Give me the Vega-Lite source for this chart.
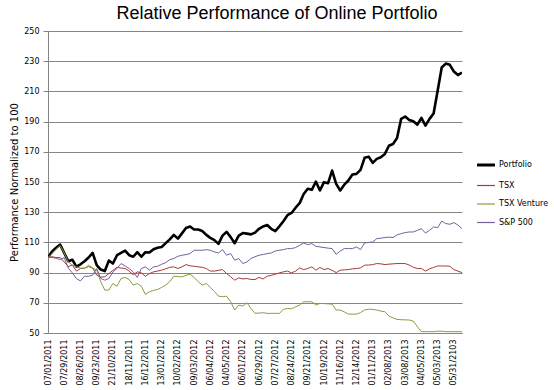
{
  "$schema": "https://vega.github.io/schema/vega-lite/v6.json",
  "width": 414,
  "height": 302,
  "autosize": {"type": "none"},
  "padding": {"left": 48, "top": 31, "right": 92, "bottom": 57},
  "background": "white",
  "title": {
    "text": "Relative Performance of Online Portfolio",
    "font": "Liberation Sans",
    "fontSize": 18,
    "fontWeight": "normal",
    "color": "#000000",
    "anchor": "middle",
    "dx": 22,
    "offset": 4
  },
  "config": {
    "view": {"stroke": null},
    "font": "DejaVu Sans"
  },
  "data": {
    "values": [
      {"date": "07/01/2011", "Portfolio": 100, "TSX": 100, "TSX Venture": 100, "S&P 500": 100},
      {"date": "07/08/2011", "Portfolio": 104, "TSX": 100.5, "TSX Venture": 102.5, "S&P 500": 100},
      {"date": "07/15/2011", "Portfolio": 106.5, "TSX": 100, "TSX Venture": 105.5, "S&P 500": 99.5},
      {"date": "07/22/2011", "Portfolio": 108.5, "TSX": 100, "TSX Venture": 108, "S&P 500": 98.6},
      {"date": "07/29/2011", "Portfolio": 103, "TSX": 97, "TSX Venture": 103, "S&P 500": 99.9},
      {"date": "08/05/2011", "Portfolio": 97.5, "TSX": 94, "TSX Venture": 97, "S&P 500": 93},
      {"date": "08/12/2011", "Portfolio": 98.5, "TSX": 95, "TSX Venture": 95, "S&P 500": 89.8},
      {"date": "08/19/2011", "Portfolio": 94, "TSX": 91, "TSX Venture": 93.8, "S&P 500": 86},
      {"date": "08/26/2011", "Portfolio": 95.5, "TSX": 92.7, "TSX Venture": 93, "S&P 500": 84.5},
      {"date": "09/02/2011", "Portfolio": 97.5, "TSX": 93, "TSX Venture": 92.7, "S&P 500": 87.6},
      {"date": "09/09/2011", "Portfolio": 100, "TSX": 94, "TSX Venture": 94.9, "S&P 500": 87.6},
      {"date": "09/16/2011", "Portfolio": 103, "TSX": 93, "TSX Venture": 93.1, "S&P 500": 88.3},
      {"date": "09/23/2011", "Portfolio": 95, "TSX": 88.3, "TSX Venture": 91.6, "S&P 500": 92.7},
      {"date": "09/30/2011", "Portfolio": 92, "TSX": 87, "TSX Venture": 83.9, "S&P 500": 86.1},
      {"date": "10/07/2011", "Portfolio": 91, "TSX": 87.2, "TSX Venture": 78.4, "S&P 500": 85},
      {"date": "10/14/2011", "Portfolio": 98, "TSX": 89.4, "TSX Venture": 78.4, "S&P 500": 86.1},
      {"date": "21/10/2011", "Portfolio": 96, "TSX": 91.5, "TSX Venture": 82.8, "S&P 500": 90.5},
      {"date": "10/28/2011", "Portfolio": 101.5, "TSX": 93.5, "TSX Venture": 81, "S&P 500": 92.7},
      {"date": "11/04/2011", "Portfolio": 103, "TSX": 93, "TSX Venture": 86.1, "S&P 500": 96},
      {"date": "11/11/2011", "Portfolio": 104.5, "TSX": 92.7, "TSX Venture": 86.8, "S&P 500": 94.4},
      {"date": "18/11/2011", "Portfolio": 101.5, "TSX": 91, "TSX Venture": 85.4, "S&P 500": 92.7},
      {"date": "11/25/2011", "Portfolio": 100.5, "TSX": 88.5, "TSX Venture": 81.7, "S&P 500": 90.5},
      {"date": "12/02/2011", "Portfolio": 103.5, "TSX": 90.5, "TSX Venture": 82.8, "S&P 500": 86.8},
      {"date": "12/09/2011", "Portfolio": 100.5, "TSX": 89.8, "TSX Venture": 81, "S&P 500": 92.7},
      {"date": "16/12/2011", "Portfolio": 103.5, "TSX": 87.6, "TSX Venture": 75.5, "S&P 500": 93.8},
      {"date": "12/23/2011", "Portfolio": 103.3, "TSX": 89.4, "TSX Venture": 77.3, "S&P 500": 91.6},
      {"date": "12/30/2011", "Portfolio": 105.5, "TSX": 90.5, "TSX Venture": 78.2, "S&P 500": 93.8},
      {"date": "01/06/2012", "Portfolio": 106.5, "TSX": 91, "TSX Venture": 78.8, "S&P 500": 94.2},
      {"date": "13/01/2012", "Portfolio": 107, "TSX": 91.6, "TSX Venture": 80.2, "S&P 500": 95.5},
      {"date": "01/20/2012", "Portfolio": 109.5, "TSX": 92.5, "TSX Venture": 81.7, "S&P 500": 96.6},
      {"date": "01/27/2012", "Portfolio": 112, "TSX": 93.5, "TSX Venture": 84, "S&P 500": 98.6},
      {"date": "02/03/2012", "Portfolio": 115, "TSX": 93.8, "TSX Venture": 87.6, "S&P 500": 99.3},
      {"date": "10/02/2012", "Portfolio": 112.5, "TSX": 92.7, "TSX Venture": 87.4, "S&P 500": 100.8},
      {"date": "02/17/2012", "Portfolio": 116, "TSX": 93.8, "TSX Venture": 87.2, "S&P 500": 101.5},
      {"date": "02/24/2012", "Portfolio": 119.5, "TSX": 95.3, "TSX Venture": 88.2, "S&P 500": 101.9},
      {"date": "03/02/2012", "Portfolio": 120.5, "TSX": 94.5, "TSX Venture": 89, "S&P 500": 102.6},
      {"date": "09/03/2012", "Portfolio": 118.5, "TSX": 94.2, "TSX Venture": 86.8, "S&P 500": 104.8},
      {"date": "03/16/2012", "Portfolio": 118.5, "TSX": 93.8, "TSX Venture": 84, "S&P 500": 104.8},
      {"date": "03/23/2012", "Portfolio": 117.5, "TSX": 93.5, "TSX Venture": 81.7, "S&P 500": 104.8},
      {"date": "03/30/2012", "Portfolio": 115, "TSX": 92.7, "TSX Venture": 82.8, "S&P 500": 105.2},
      {"date": "06/04/2012", "Portfolio": 113, "TSX": 91, "TSX Venture": 80.2, "S&P 500": 104.8},
      {"date": "04/13/2012", "Portfolio": 111.5, "TSX": 91, "TSX Venture": 77.5, "S&P 500": 103.7},
      {"date": "04/20/2012", "Portfolio": 109, "TSX": 91.5, "TSX Venture": 74.4, "S&P 500": 103},
      {"date": "04/27/2012", "Portfolio": 114.5, "TSX": 92, "TSX Venture": 74, "S&P 500": 105.2},
      {"date": "04/05/2012", "Portfolio": 117, "TSX": 89.4, "TSX Venture": 74.4, "S&P 500": 101.5},
      {"date": "05/11/2012", "Portfolio": 113.5, "TSX": 87.2, "TSX Venture": 70.7, "S&P 500": 102.6},
      {"date": "05/18/2012", "Portfolio": 109.5, "TSX": 85, "TSX Venture": 65.2, "S&P 500": 98.2},
      {"date": "05/25/2012", "Portfolio": 114.5, "TSX": 86.5, "TSX Venture": 68.5, "S&P 500": 99.3},
      {"date": "06/01/2012", "Portfolio": 116.2, "TSX": 85.8, "TSX Venture": 67.8, "S&P 500": 96},
      {"date": "06/08/2012", "Portfolio": 115.8, "TSX": 86.1, "TSX Venture": 70, "S&P 500": 97.1},
      {"date": "06/15/2012", "Portfolio": 115.3, "TSX": 85.5, "TSX Venture": 66.3, "S&P 500": 99.3},
      {"date": "06/22/2012", "Portfolio": 116.5, "TSX": 85.4, "TSX Venture": 63, "S&P 500": 100.5},
      {"date": "06/29/2012", "Portfolio": 119, "TSX": 86.8, "TSX Venture": 63.2, "S&P 500": 101.5},
      {"date": "07/06/2012", "Portfolio": 120.6, "TSX": 85.8, "TSX Venture": 63.4, "S&P 500": 102},
      {"date": "07/13/2012", "Portfolio": 121.5, "TSX": 87.6, "TSX Venture": 63, "S&P 500": 102.6},
      {"date": "07/20/2012", "Portfolio": 119, "TSX": 88.2, "TSX Venture": 63, "S&P 500": 103},
      {"date": "07/27/2012", "Portfolio": 117.5, "TSX": 88.9, "TSX Venture": 63, "S&P 500": 104.3},
      {"date": "08/03/2012", "Portfolio": 120.6, "TSX": 89.8, "TSX Venture": 63, "S&P 500": 104.8},
      {"date": "08/10/2012", "Portfolio": 124, "TSX": 90.5, "TSX Venture": 65.6, "S&P 500": 105.2},
      {"date": "08/17/2012", "Portfolio": 128, "TSX": 91, "TSX Venture": 66.3, "S&P 500": 105.9},
      {"date": "08/24/2012", "Portfolio": 129.5, "TSX": 89.8, "TSX Venture": 66, "S&P 500": 105.9},
      {"date": "08/31/2012", "Portfolio": 133, "TSX": 91, "TSX Venture": 67.4, "S&P 500": 106.6},
      {"date": "09/07/2012", "Portfolio": 136, "TSX": 93.1, "TSX Venture": 68.5, "S&P 500": 108.1},
      {"date": "09/14/2012", "Portfolio": 142, "TSX": 92, "TSX Venture": 70.7, "S&P 500": 109.6},
      {"date": "09/21/2012", "Portfolio": 145.5, "TSX": 92.7, "TSX Venture": 70.7, "S&P 500": 108.5},
      {"date": "09/28/2012", "Portfolio": 144.8, "TSX": 93.8, "TSX Venture": 70.7, "S&P 500": 109.2},
      {"date": "10/05/2012", "Portfolio": 150.3, "TSX": 91.6, "TSX Venture": 68.5, "S&P 500": 107.4},
      {"date": "10/12/2012", "Portfolio": 144.4, "TSX": 93.4, "TSX Venture": 69.6, "S&P 500": 107},
      {"date": "10/19/2012", "Portfolio": 149.9, "TSX": 92, "TSX Venture": 69.5, "S&P 500": 106.6},
      {"date": "10/26/2012", "Portfolio": 149.2, "TSX": 92.7, "TSX Venture": 69.3, "S&P 500": 106.2},
      {"date": "11/02/2012", "Portfolio": 157.6, "TSX": 91.5, "TSX Venture": 69.1, "S&P 500": 105.9},
      {"date": "11/09/2012", "Portfolio": 148.8, "TSX": 90, "TSX Venture": 65.2, "S&P 500": 102.1},
      {"date": "11/16/2012", "Portfolio": 144.4, "TSX": 91.6, "TSX Venture": 65.2, "S&P 500": 104.3},
      {"date": "11/23/2012", "Portfolio": 148.2, "TSX": 91.8, "TSX Venture": 64, "S&P 500": 105.9},
      {"date": "11/30/2012", "Portfolio": 151, "TSX": 92, "TSX Venture": 62.5, "S&P 500": 105.9},
      {"date": "12/07/2012", "Portfolio": 155, "TSX": 92.5, "TSX Venture": 62.5, "S&P 500": 105.9},
      {"date": "12/14/2012", "Portfolio": 155.4, "TSX": 92.7, "TSX Venture": 62.5, "S&P 500": 107},
      {"date": "12/21/2012", "Portfolio": 158, "TSX": 93.1, "TSX Venture": 63.5, "S&P 500": 105.2},
      {"date": "12/28/2012", "Portfolio": 166, "TSX": 94.9, "TSX Venture": 65.2, "S&P 500": 109.6},
      {"date": "01/04/2013", "Portfolio": 166.8, "TSX": 95, "TSX Venture": 65.8, "S&P 500": 110},
      {"date": "01/11/2013", "Portfolio": 162.7, "TSX": 95.3, "TSX Venture": 65.6, "S&P 500": 110.3},
      {"date": "01/18/2013", "Portfolio": 165.3, "TSX": 96, "TSX Venture": 65.2, "S&P 500": 112.5},
      {"date": "01/25/2013", "Portfolio": 166.4, "TSX": 95.8, "TSX Venture": 64.5, "S&P 500": 112.8},
      {"date": "02/01/2013", "Portfolio": 168.6, "TSX": 95.3, "TSX Venture": 64.1, "S&P 500": 113.2},
      {"date": "02/08/2013", "Portfolio": 174, "TSX": 95.6, "TSX Venture": 61.2, "S&P 500": 113.5},
      {"date": "02/15/2013", "Portfolio": 175.2, "TSX": 95.8, "TSX Venture": 60, "S&P 500": 113.2},
      {"date": "02/22/2013", "Portfolio": 179.2, "TSX": 96, "TSX Venture": 59, "S&P 500": 115},
      {"date": "03/01/2013", "Portfolio": 191.8, "TSX": 96, "TSX Venture": 58.8, "S&P 500": 115.8},
      {"date": "03/08/2013", "Portfolio": 193.3, "TSX": 96, "TSX Venture": 58.7, "S&P 500": 116.5},
      {"date": "03/15/2013", "Portfolio": 191.1, "TSX": 95, "TSX Venture": 58.6, "S&P 500": 116.9},
      {"date": "03/22/2013", "Portfolio": 190.2, "TSX": 93.5, "TSX Venture": 57.9, "S&P 500": 116.9},
      {"date": "03/29/2013", "Portfolio": 188, "TSX": 92.7, "TSX Venture": 54.2, "S&P 500": 118},
      {"date": "04/05/2013", "Portfolio": 192.4, "TSX": 92.7, "TSX Venture": 50.9, "S&P 500": 119.1},
      {"date": "04/12/2013", "Portfolio": 187.3, "TSX": 91, "TSX Venture": 50.9, "S&P 500": 116.2},
      {"date": "04/19/2013", "Portfolio": 191.8, "TSX": 92.5, "TSX Venture": 50.9, "S&P 500": 118},
      {"date": "04/26/2013", "Portfolio": 195.4, "TSX": 93.4, "TSX Venture": 50.9, "S&P 500": 120.2},
      {"date": "05/03/2013", "Portfolio": 210.4, "TSX": 94.4, "TSX Venture": 51.2, "S&P 500": 119.8},
      {"date": "05/10/2013", "Portfolio": 225.8, "TSX": 94.4, "TSX Venture": 51.2, "S&P 500": 124.1},
      {"date": "05/17/2013", "Portfolio": 228.4, "TSX": 94.4, "TSX Venture": 50.9, "S&P 500": 122.5},
      {"date": "05/24/2013", "Portfolio": 227.6, "TSX": 94.2, "TSX Venture": 50.9, "S&P 500": 122},
      {"date": "05/31/2103", "Portfolio": 223.2, "TSX": 92, "TSX Venture": 50.9, "S&P 500": 123.1},
      {"date": "06/07/2013", "Portfolio": 220.8, "TSX": 91, "TSX Venture": 50.9, "S&P 500": 121.5},
      {"date": "06/14/2013", "Portfolio": 222.5, "TSX": 90, "TSX Venture": 50.8, "S&P 500": 119.1}
    ]
  },
  "transform": [
    {"fold": ["Portfolio", "TSX", "TSX Venture", "S&P 500"], "as": ["series", "value"]}
  ],
  "mark": {"type": "line", "strokeJoin": "round", "clip": true},
  "encoding": {
    "x": {
      "field": "date",
      "type": "ordinal",
      "sort": null,
      "scale": {"type": "point", "padding": 0},
      "axis": {
        "title": null,
        "values": ["07/01/2011", "07/29/2011", "08/26/2011", "09/23/2011", "21/10/2011", "18/11/2011", "16/12/2011", "13/01/2012", "10/02/2012", "09/03/2012", "06/04/2012", "04/05/2012", "06/01/2012", "06/29/2012", "07/27/2012", "08/24/2012", "09/21/2012", "10/19/2012", "11/16/2012", "12/14/2012", "01/11/2013", "02/08/2013", "03/08/2013", "04/05/2013", "05/03/2013", "05/31/2103"],
        "labelAngle": -90,
        "labelAlign": "right",
        "labelBaseline": "middle",
        "labelFont": "DejaVu Sans",
        "labelFontSize": 8,
        "labelColor": "#000000",
        "labelPadding": 6,
        "labelOverlap": false,
        "ticks": false,
        "grid": false,
        "domainColor": "#868686",
        "domainWidth": 1
      }
    },
    "y": {
      "field": "value",
      "type": "quantitative",
      "scale": {"domain": [50, 250], "nice": false, "zero": false},
      "axis": {
        "title": "Performance Normalized to 100",
        "titleFont": "DejaVu Sans",
        "titleFontSize": 10,
        "titleFontWeight": "normal",
        "titleColor": "#000000",
        "titlePadding": 4,
        "values": [50, 70, 90, 110, 130, 150, 170, 190, 210, 230, 250],
        "labelFont": "DejaVu Sans",
        "labelFontSize": 8,
        "labelColor": "#000000",
        "labelPadding": 4,
        "tickSize": 5,
        "tickColor": "#868686",
        "domainColor": "#868686",
        "grid": true,
        "gridColor": "#868686",
        "gridWidth": 1
      }
    },
    "color": {
      "field": "series",
      "type": "nominal",
      "scale": {
        "domain": ["Portfolio", "TSX", "TSX Venture", "S&P 500"],
        "range": ["#000000", "#a83a37", "#82a040", "#76609e"]
      },
      "legend": {
        "title": null,
        "orient": "none",
        "legendX": 434,
        "legendY": 130,
        "symbolType": "stroke",
        "symbolSize": 320,
        "symbolStrokeWidth": 1.2,
        "labelFont": "DejaVu Sans",
        "labelFontSize": 8,
        "labelColor": "#000000",
        "labelOffset": 9,
        "rowPadding": 10.5,
        "encode": {
          "symbols": {
            "update": {
              "strokeWidth": {"signal": "datum.value === 'Portfolio' ? 3 : 1.2"}
            }
          }
        }
      }
    },
    "strokeWidth": {
      "condition": {"test": "datum.series === 'Portfolio'", "value": 2.6},
      "value": 1
    }
  }
}
